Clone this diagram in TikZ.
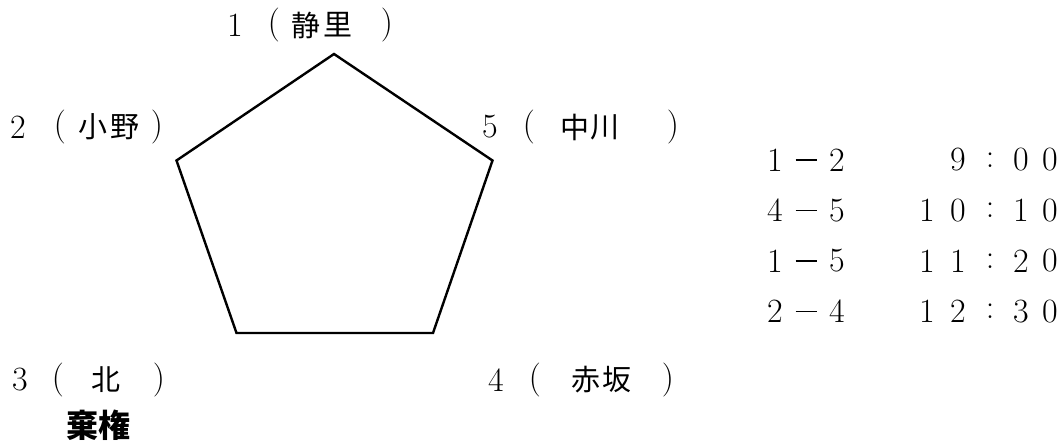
\documentclass[tikz,border=0pt]{standalone}
\usepackage{fontspec}
\newfontfamily\jp{Noto Sans CJK JP}
\begin{document}
\begin{tikzpicture}[x=1pt,y=-1pt,
  lab/.style={inner sep=0pt,anchor=center,font=\fontsize{34}{36}\selectfont},
  jpl/.style={inner sep=0pt,anchor=center,font=\jp\fontsize{29}{32}\selectfont},
  edge/.style={line width=2.4pt,line join=miter}]
\useasboundingbox (0,0) rectangle (1062,441);
% pentagon
\coordinate (v1) at (334,54);
\coordinate (v2) at (176.5,160.5);
\coordinate (v3) at (236.5,333);
\coordinate (v4) at (433,333);
\coordinate (v5) at (492.5,160.5);
\draw[edge] (v1) -- (v2) -- (v3) -- (v4) -- (v5) -- cycle;
% label 1
\node[lab] (a1) at (235,25) {1};
\node[lab] (a2) at (274,25) {(};
\node[jpl] (a3) at (306,25) {静};
\node[jpl] (a4) at (338,25) {里};
\node[lab] (a5) at (387,25) {)};
% label 2
\node[lab] (b1) at (18,127) {2};
\node[lab] (b2) at (60,127) {(};
\node[jpl] (b3) at (93,127) {小};
\node[jpl] (b4) at (125,127) {野};
\node[lab] (b5) at (157,127) {)};
% label 5
\node[lab] (e1) at (490,127) {5};
\node[lab] (e2) at (529,127) {(};
\node[jpl] (e3) at (575,127) {中};
\node[jpl] (e4) at (605,127) {川};
\node[lab] (e5) at (673,127) {)};
% label 3
\node[lab] (c1) at (20,380) {3};
\node[lab] (c2) at (58,380) {(};
\node[jpl] (c3) at (106,380) {北};
\node[lab] (c4) at (159,380) {)};
\node[jpl,font=\jp\bfseries\fontsize{32}{34}\selectfont] (c5) at (98,425) {棄権};
% label 4
\node[lab] (d1) at (496,380) {4};
\node[lab] (d2) at (535,380) {(};
\node[jpl] (d3) at (586,380) {赤};
\node[jpl] (d4) at (617,380) {坂};
\node[lab] (d5) at (668,380) {)};
% table
\foreach \p/\q/\ta/\tb/\tc/\td [count=\i] in {1/2/{}/9/0/0, 4/5/1/0/1/0, 1/5/1/1/2/0, 2/4/1/2/3/0}{
  \pgfmathsetmacro{\yy}{160+(\i-1)*50.5}
  \node[lab] (p\i) at (775,\yy) {\p};
  \node[inner sep=0pt] (m\i) at (806,\yy) {\rule{21pt}{1.8pt}};
  \node[lab] (q\i) at (837,\yy) {\q};
  \node[lab] (ta\i) at (927,\yy) {\ta};
  \node[lab] (tb\i) at (958,\yy) {\tb};
  \node[lab] (tc\i) at (990,\yy) {:};
  \node[lab] (td\i) at (1021,\yy) {\tc};
  \node[lab] (te\i) at (1050,\yy) {\td};
}
\end{tikzpicture}
\end{document}
